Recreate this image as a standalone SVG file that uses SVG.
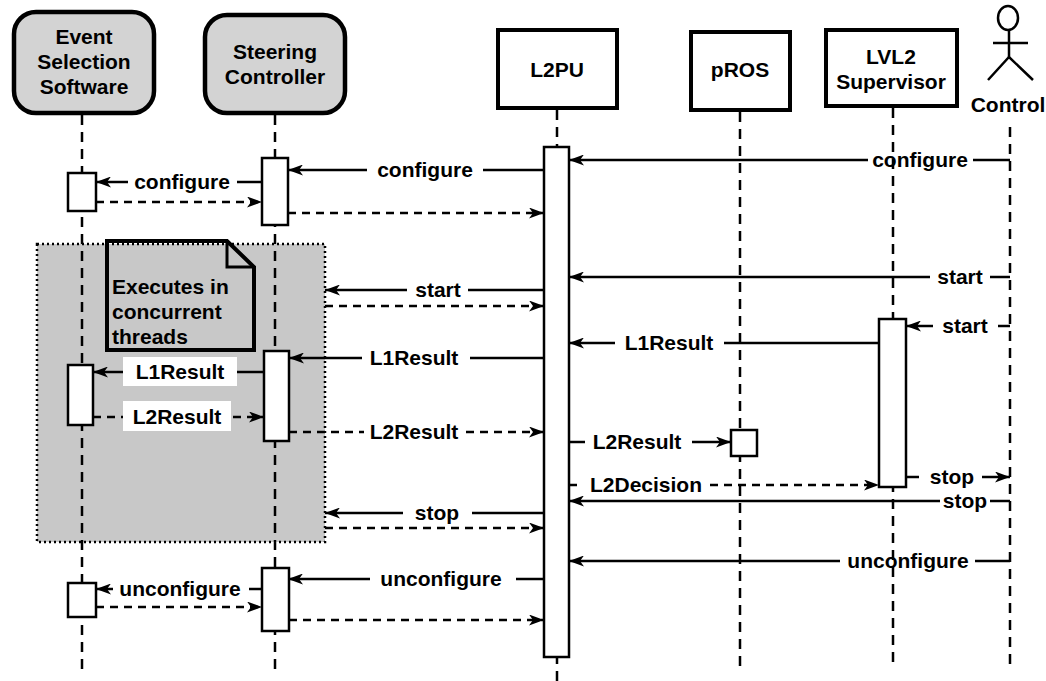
<svg xmlns="http://www.w3.org/2000/svg" width="1046" height="681" viewBox="0 0 1046 681">
<defs>
<style>
.ll{stroke:#000;stroke-width:2.5;stroke-dasharray:10 7;fill:none}
.m{stroke:#000;stroke-width:2.5;fill:none}
.d{stroke:#000;stroke-width:2.5;stroke-dasharray:8 6;fill:none}
.act{fill:#fff;stroke:#000;stroke-width:2.5}
.hdr{fill:#d3d3d3;stroke:#000;stroke-width:4.5}
.box{fill:#fff;stroke:#000;stroke-width:4}
.t{font-family:"Liberation Sans",Arial,Helvetica,sans-serif;font-weight:bold;font-size:21px;text-anchor:middle;fill:#000}
.tl{font-family:"Liberation Sans",Arial,Helvetica,sans-serif;font-weight:bold;font-size:21px;fill:#000}
</style>
<marker id="ah" viewBox="0 0 15 11" refX="15" refY="5.5" markerWidth="15" markerHeight="11" markerUnits="userSpaceOnUse" orient="auto">
<path d="M0,0 L15,5.5 L0,11 L4,5.5 Z" fill="#000"/>
</marker>
</defs>
<rect width="1046" height="681" fill="#fff"/>

<g id="concurrent-region">
<rect x="37" y="244" width="288" height="298" fill="#c8c8c8" stroke="#000" stroke-width="2.5" stroke-dasharray="2 3"/>
</g>

<g id="lifelines">
<line class="ll" x1="82" y1="115" x2="82" y2="672"/>
<line class="ll" x1="275" y1="115" x2="275" y2="675"/>
<line class="ll" x1="557" y1="110" x2="557" y2="681"/>
<line class="ll" x1="740" y1="112" x2="740" y2="668"/>
<line class="ll" x1="893" y1="108" x2="893" y2="668"/>
<line class="ll" x1="1010" y1="127" x2="1010" y2="670"/>
</g>

<g id="node-ess">
<rect class="hdr" x="14" y="12" width="140" height="101" rx="22"/>
<text class="t" x="84" y="44">Event</text>
<text class="t" x="84" y="69">Selection</text>
<text class="t" x="84" y="94">Software</text>
</g>
<g id="node-sc">
<rect class="hdr" x="205" y="15" width="140" height="98" rx="22"/>
<text class="t" x="275" y="59">Steering</text>
<text class="t" x="275" y="84">Controller</text>
</g>
<g id="node-l2pu">
<rect class="box" x="498" y="30" width="119" height="78"/>
<text class="t" x="557" y="77">L2PU</text>
</g>
<g id="node-pros">
<rect class="box" x="691" y="32" width="99" height="78"/>
<text class="t" x="740" y="77">pROS</text>
</g>
<g id="node-lvl2">
<rect class="box" x="826" y="30" width="131" height="76"/>
<text class="t" x="891" y="64">LVL2</text>
<text class="t" x="891" y="89">Supervisor</text>
</g>
<g id="node-control">
<ellipse cx="1008" cy="18" rx="10" ry="12" fill="#fff" stroke="#000" stroke-width="2.5"/>
<line class="m" x1="1009" y1="30" x2="1009" y2="57"/>
<line class="m" x1="993" y1="43" x2="1028" y2="43"/>
<polyline class="m" points="988,80 1009,57 1033,80"/>
<text class="t" x="1008" y="112">Control</text>
</g>

<g id="note">
<polygon points="107,241 227,241 254,267 254,350 107,350" fill="none" stroke="#000" stroke-width="4" stroke-linejoin="miter"/>
<polyline points="227,241 227,267 254,267" fill="none" stroke="#000" stroke-width="3"/>
<text class="tl" x="112" y="294">Executes in</text>
<text class="tl" x="112" y="319">concurrent</text>
<text class="tl" x="112" y="344">threads</text>
</g>

<g id="activations">
<rect class="act" x="544" y="147" width="25" height="510"/>
<rect class="act" x="262" y="158" width="26" height="67"/>
<rect class="act" x="68" y="173" width="28" height="38"/>
<rect class="act" x="264" y="351" width="25" height="90"/>
<rect class="act" x="68" y="365" width="25" height="60"/>
<rect class="act" x="879" y="319" width="27" height="168"/>
<rect class="act" x="731" y="430" width="26" height="26"/>
<rect class="act" x="262" y="568" width="27" height="63"/>
<rect class="act" x="68" y="583" width="28" height="34"/>
</g>

<g id="connectors">
<line class="m" x1="1010" y1="160" x2="973" y2="160"/>
<line class="m" x1="868" y1="160" x2="569" y2="160" marker-end="url(#ah)"/>
<line class="m" x1="544" y1="170" x2="483" y2="170"/>
<line class="m" x1="367" y1="170" x2="288" y2="170" marker-end="url(#ah)"/>
<line class="m" x1="262" y1="182" x2="237" y2="182"/>
<line class="m" x1="128" y1="182" x2="96" y2="182" marker-end="url(#ah)"/>
<line class="d" x1="96" y1="202" x2="262" y2="202" marker-end="url(#ah)"/>
<line class="d" x1="288" y1="213" x2="544" y2="213" marker-end="url(#ah)"/>

<line class="m" x1="1010" y1="277" x2="990" y2="277"/>
<line class="m" x1="930" y1="277" x2="569" y2="277" marker-end="url(#ah)"/>
<line class="m" x1="544" y1="290" x2="468" y2="290"/>
<line class="m" x1="407" y1="290" x2="325" y2="290" marker-end="url(#ah)"/>
<line class="d" x1="325" y1="306" x2="544" y2="306" marker-end="url(#ah)"/>
<line class="m" x1="1010" y1="326" x2="998" y2="326"/>
<line class="m" x1="933" y1="326" x2="906" y2="326" marker-end="url(#ah)"/>
<line class="m" x1="879" y1="343" x2="724" y2="343"/>
<line class="m" x1="615" y1="343" x2="569" y2="343" marker-end="url(#ah)"/>
<line class="m" x1="544" y1="358" x2="470" y2="358"/>
<line class="m" x1="362" y1="358" x2="289" y2="358" marker-end="url(#ah)"/>
<line class="m" x1="264" y1="372" x2="93" y2="372" marker-end="url(#ah)"/>
<line class="d" x1="93" y1="417" x2="264" y2="417" marker-end="url(#ah)"/>
<line class="d" x1="289" y1="432" x2="364" y2="432"/>
<line class="d" x1="466" y1="432" x2="544" y2="432" marker-end="url(#ah)"/>
<line class="m" x1="569" y1="442" x2="585" y2="442"/>
<line class="m" x1="692" y1="442" x2="731" y2="442" marker-end="url(#ah)"/>
<line class="m" x1="906" y1="477" x2="919" y2="477"/>
<line class="m" x1="982" y1="477" x2="1010" y2="477" marker-end="url(#ah)"/>
<line class="d" x1="569" y1="485" x2="580" y2="485"/>
<line class="d" x1="710" y1="485" x2="879" y2="485" marker-end="url(#ah)"/>
<line class="m" x1="1010" y1="501" x2="990" y2="501"/>
<line class="m" x1="940" y1="501" x2="569" y2="501" marker-end="url(#ah)"/>
<line class="m" x1="544" y1="513" x2="472" y2="513"/>
<line class="m" x1="403" y1="513" x2="325" y2="513" marker-end="url(#ah)"/>
<line class="d" x1="325" y1="528" x2="544" y2="528" marker-end="url(#ah)"/>

<line class="m" x1="1010" y1="561" x2="975" y2="561"/>
<line class="m" x1="840" y1="561" x2="569" y2="561" marker-end="url(#ah)"/>
<line class="m" x1="544" y1="579" x2="516" y2="579"/>
<line class="m" x1="370" y1="579" x2="288" y2="579" marker-end="url(#ah)"/>
<line class="m" x1="262" y1="589" x2="249" y2="589"/>
<line class="m" x1="113" y1="589" x2="96" y2="589" marker-end="url(#ah)"/>
<line class="d" x1="96" y1="607" x2="262" y2="607" marker-end="url(#ah)"/>
<line class="d" x1="289" y1="620" x2="544" y2="620" marker-end="url(#ah)"/>
</g>

<g id="labels">
<text class="t" x="920" y="167">configure</text>
<text class="t" x="425" y="177">configure</text>
<text class="t" x="182" y="189">configure</text>
<text class="t" x="960" y="284">start</text>
<text class="t" x="438" y="297">start</text>
<text class="t" x="965" y="333">start</text>
<text class="t" x="669" y="350">L1Result</text>
<text class="t" x="414" y="365">L1Result</text>
<rect x="123" y="357" width="114" height="29" fill="#fff"/>
<text class="t" x="180" y="379">L1Result</text>
<rect x="123" y="401" width="108" height="30" fill="#fff"/>
<text class="t" x="177" y="424">L2Result</text>
<text class="t" x="414" y="439">L2Result</text>
<text class="t" x="637" y="449">L2Result</text>
<text class="t" x="952" y="484">stop</text>
<text class="t" x="646" y="492">L2Decision</text>
<text class="t" x="965" y="508">stop</text>
<text class="t" x="437" y="520">stop</text>
<text class="t" x="908" y="568">unconfigure</text>
<text class="t" x="441" y="586">unconfigure</text>
<text class="t" x="180" y="596">unconfigure</text>
</g>
</svg>
